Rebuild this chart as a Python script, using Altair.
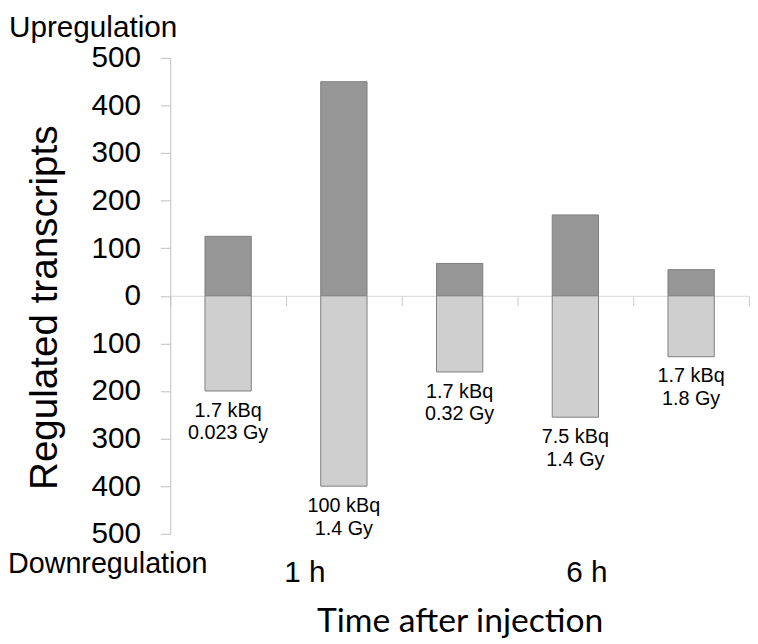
import altair as alt
import pandas as pd

# ---- data ----
groups = ["g1", "g2", "g3", "g4", "g5"]
up_values = [125, 450, 68, 170, 55]
down_values = [200, 400, 160, 255, 128]
activity = ["1.7 kBq", "100 kBq", "1.7 kBq", "7.5 kBq", "1.7 kBq"]
dose = ["0.023 Gy", "1.4 Gy", "0.32 Gy", "1.4 Gy", "1.8 Gy"]
y_ticks = [-500, -400, -300, -200, -100, 0, 100, 200, 300, 400, 500]

rows = []
for g, u, d, a, s in zip(groups, up_values, down_values, activity, dose):
    rows.append({"group": g, "dir": "up", "start": 0, "end": u, "label": ""})
    rows.append({"group": g, "dir": "down", "start": 0, "end": -d,
                 "label": a + "\n" + s})
df = pd.DataFrame(rows)

W, H = 585, 481
FONT = "Liberation Sans"

x_enc = alt.X("group:N", sort=groups,
              scale=alt.Scale(paddingInner=0, paddingOuter=0),
              axis=alt.Axis(labels=False, title=None, orient="bottom",
                            offset=-(H / 2), tickBand="extent", tickSize=10,
                            domainColor="#d9d9d9", tickColor="#c8c8c8",
                            domainWidth=1, tickWidth=1, grid=False))
y_scale = alt.Scale(domain=[-500, 500], nice=False)
y_axis = alt.Axis(values=y_ticks, labelExpr="abs(datum.value)",
                  labelFont=FONT, labelFontSize=30, labelColor="black",
                  labelPadding=20, tickSize=10, tickColor="#bfbfbf",
                  domainColor="#bfbfbf", grid=False,
                  title="Regulated transcripts", titleFont=FONT,
                  titleFontSize=39, titleFontWeight="normal",
                  titleColor="black", titlePadding=27, titleY=252)

bars = alt.Chart(df).mark_bar(stroke="#7f7f7f", strokeWidth=1,
                              width=alt.RelativeBandSize(0.4)).encode(
    x=x_enc,
    y=alt.Y("start:Q", scale=y_scale, axis=y_axis),
    y2="end:Q",
    color=alt.Color("dir:N", scale=alt.Scale(domain=["up", "down"],
                                             range=["#969696", "#cfcfcf"]),
                    legend=None),
)

labels = alt.Chart(df[df["dir"] == "down"]).mark_text(
    font=FONT, fontSize=20, color="black", baseline="top", align="center",
    lineBreak="\n", lineHeight=23, dy=10).encode(
    x=alt.X("group:N", sort=groups),
    y=alt.Y("end:Q", scale=y_scale),
    text="label:N",
)


def txt(text, x, y, size, align="left", font=FONT):
    return alt.Chart(pd.DataFrame({"t": [text]})).mark_text(
        font=font, fontSize=size, color="black", align=align,
        baseline="alphabetic").encode(
        text="t:N", x=alt.value(x), y=alt.value(y))


notes = (txt("Upregulation", -163, -21, 30)
         + txt("Downregulation", -164, 521, 29)
         + txt("1 h", 136, 530, 30, align="center")
         + txt("6 h", 421, 530, 30, align="center")
         + txt("Time after injection", 293, 580, 34, align="center",
               font="Lato"))

chart = alt.layer(bars, labels, notes).properties(
    width=W, height=H,
    autosize=alt.AutoSizeParams(type="none"),
    padding={"left": 164, "top": 47, "right": 1, "bottom": 108},
).configure_view(stroke=None)

chart.save("out.html", embed_options={"renderer": "svg", "actions": False})
